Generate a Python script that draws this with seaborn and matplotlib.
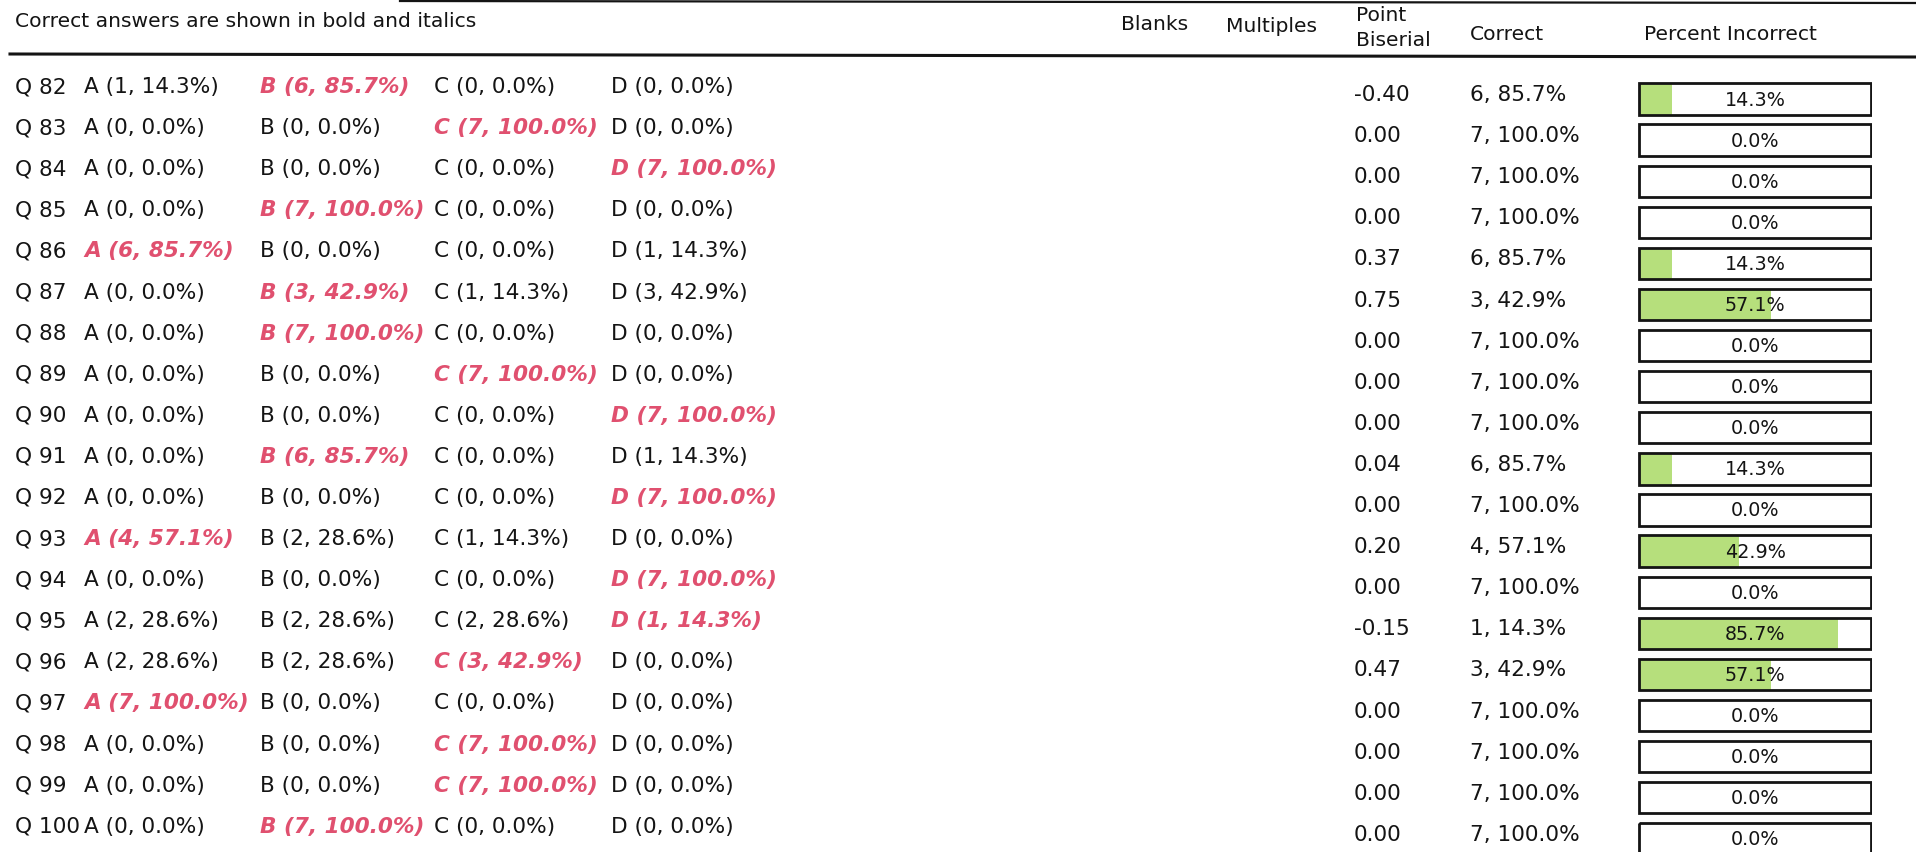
import numpy as np
import matplotlib
matplotlib.use("Agg")
import matplotlib.pyplot as plt
import seaborn as sns

plt.rcParams['font.family'] = ['DejaVu Sans']

# item analysis data (7 respondents)
questions = ['Q 82', 'Q 83', 'Q 84', 'Q 85', 'Q 86', 'Q 87', 'Q 88', 'Q 89', 'Q 90', 'Q 91',
             'Q 92', 'Q 93', 'Q 94', 'Q 95', 'Q 96', 'Q 97', 'Q 98', 'Q 99', 'Q 100']
count_a = [1, 0, 0, 0, 6, 0, 0, 0, 0, 0, 0, 4, 0, 2, 2, 7, 0, 0, 0]
count_b = [6, 0, 0, 7, 0, 3, 7, 0, 0, 6, 0, 2, 0, 2, 2, 0, 0, 0, 7]
count_c = [0, 7, 0, 0, 0, 1, 0, 7, 0, 0, 0, 1, 0, 2, 3, 0, 7, 7, 0]
count_d = [0, 0, 7, 0, 1, 3, 0, 0, 7, 1, 7, 0, 7, 1, 0, 0, 0, 0, 0]
correct_letter = ['B', 'C', 'D', 'B', 'A', 'B', 'B', 'C', 'D', 'B',
                  'D', 'A', 'D', 'D', 'C', 'A', 'C', 'C', 'B']
point_biserial = [-0.40, 0.00, 0.00, 0.00, 0.37, 0.75, 0.00, 0.00, 0.00, 0.04,
                  0.00, 0.20, 0.00, -0.15, 0.47, 0.00, 0.00, 0.00, 0.00]
correct_n = [6, 7, 7, 7, 6, 3, 7, 7, 7, 6, 7, 4, 7, 1, 3, 7, 7, 7, 7]
correct_pct = [85.7, 100.0, 100.0, 100.0, 85.7, 42.9, 100.0, 100.0, 100.0, 85.7,
               100.0, 57.1, 100.0, 14.3, 42.9, 100.0, 100.0, 100.0, 100.0]
pct_incorrect = [14.3, 0.0, 0.0, 0.0, 14.3, 57.1, 0.0, 0.0, 0.0, 14.3,
                 0.0, 42.9, 0.0, 85.7, 57.1, 0.0, 0.0, 0.0, 0.0]
n_total = 7

W, H = 1916, 853
ink = '#141414'
red = '#e0506f'
green = '#b6df7c'

fig = plt.figure(figsize=(W / 100, H / 100), dpi=100)
ax = fig.add_axes([0, 0, 1, 1])
ax.set_xlim(0, W)
ax.set_ylim(H, 0)
ax.axis('off')

# header
ax.text(15, 21, 'Correct answers are shown in bold and italics', fontsize=14.6,
        color=ink, va='center')
ax.plot([400, W], [2, 4], color=ink, lw=1.6)
ax.plot([10, W], [55, 58], color=ink, lw=2.2)
hdr = dict(fontsize=14.6, color=ink, va='center')
ax.text(1121, 24, 'Blanks', **hdr)
ax.text(1226, 26, 'Multiples', **hdr)
ax.text(1356, 15, 'Point', **hdr)
ax.text(1356, 40, 'Biserial', **hdr)
ax.text(1470, 34, 'Correct', **hdr)
ax.text(1644, 34, 'Percent Incorrect', **hdr)

# option columns
col_x = {'A': 84, 'B': 260, 'C': 434, 'D': 611}
counts = {'A': count_a, 'B': count_b, 'C': count_c, 'D': count_d}
row_step = 41.1
fs = 15.6
for i, q in enumerate(questions):
    y = 87 + i * row_step
    ax.text(15, y, q, fontsize=fs, color=ink, va='center')
    for letter in 'ABCD':
        n = counts[letter][i]
        label = f'{letter} ({n}, {n / n_total * 100:.1f}%)'
        if letter == correct_letter[i]:
            ax.text(col_x[letter], y, label, fontsize=fs, color=red, va='center',
                    fontweight='bold', fontstyle='italic')
        else:
            ax.text(col_x[letter], y, label, fontsize=fs, color=ink, va='center')
    yr = y + 8
    ax.text(1354, yr, f'{point_biserial[i]:.2f}', fontsize=fs, color=ink, va='center')
    ax.text(1470, yr, f'{correct_n[i]}, {correct_pct[i]:.1f}%', fontsize=fs,
            color=ink, va='center')

# percent incorrect bars
top = 100 - row_step / 2
height = row_step * len(questions)
bax = fig.add_axes([1638 / W, (H - top - height) / H, (1872 - 1638) / W, height / H])
sns.barplot(x=pct_incorrect, y=questions, orient='h', color=green, width=0.76,
            saturation=1, ax=bax)
sns.barplot(x=[100] * len(questions), y=questions, orient='h', fill=False, width=0.76,
            edgecolor=ink, linewidth=2, ax=bax)
for i, v in enumerate(pct_incorrect):
    bax.text(50, i, f'{v:.1f}%', ha='center', va='center', fontsize=13.8, color=ink)
bax.set_xlim(-0.5, 100.5)
bax.set_ylim(len(questions) - 0.5, -0.5)
bax.axis('off')

fig.savefig('out.png', dpi=100)
